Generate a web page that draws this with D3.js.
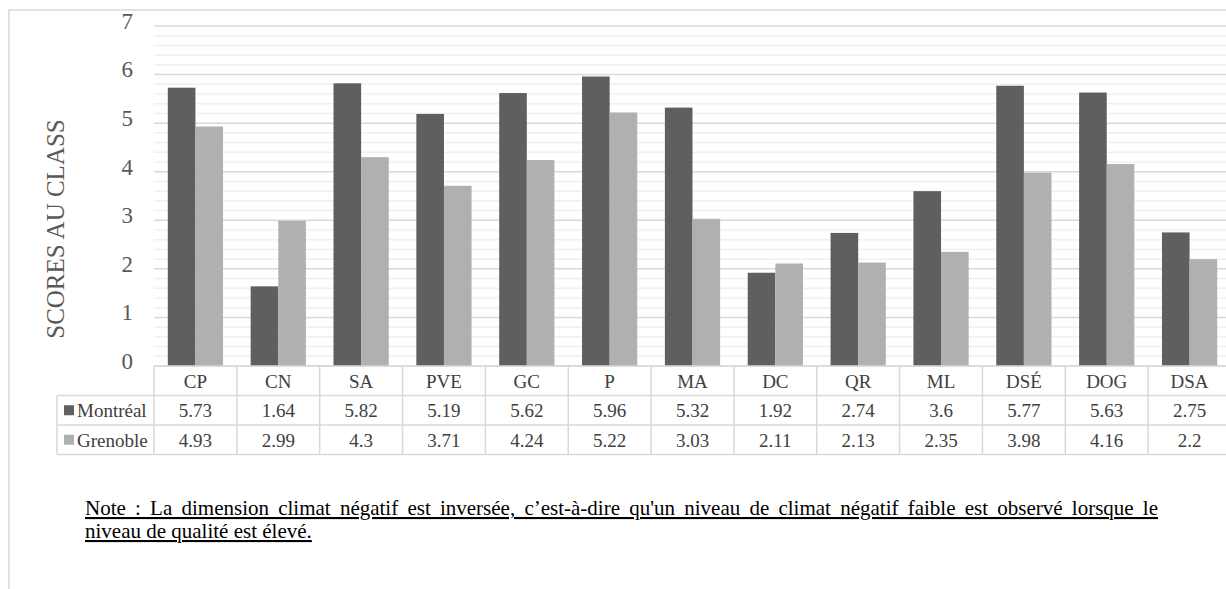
<!DOCTYPE html>
<html>
<head>
<meta charset="utf-8">
<script src="https://cdn.jsdelivr.net/npm/d3@7"></script>
<style>
  body { margin: 0; background: #fff; }
  svg { display: block; }
  svg text { font-family: "Liberation Serif", "Times New Roman", serif; }
</style>
</head>
<body>
<div id="chart"></div>
<script>
var categories = ["CP", "CN", "SA", "PVE", "GC", "P", "MA", "DC", "QR", "ML", "DSÉ", "DOG", "DSA"];
var montreal = [5.73, 1.64, 5.82, 5.19, 5.62, 5.96, 5.32, 1.92, 2.74, 3.6, 5.77, 5.63, 2.75];
var grenoble = [4.93, 2.99, 4.3, 3.71, 4.24, 5.22, 3.03, 2.11, 2.13, 2.35, 3.98, 4.16, 2.2];
var seriesNames = ["Montréal", "Grenoble"];
var yTicks = [0, 1, 2, 3, 4, 5, 6, 7];

var W = 1226, H = 589;
var colors = ["#5f5f5f", "#b0b0b0"];
var plot = {left: 154, right: 1231, top: 26, bottom: 366};
var rowH = 29.5;
var serif = "Liberation Serif";

var svg = d3.select("#chart").append("svg")
    .attr("width", W)
    .attr("height", H)
    .attr("font-family", serif);

// outer chart frame (right/bottom edges fall outside the window)
svg.append("rect")
    .attr("x", 9).attr("y", 10)
    .attr("width", W + 20).attr("height", H + 20)
    .attr("fill", "none")
    .attr("stroke", "#d9d9d9")
    .attr("stroke-width", 1.5);

var x = d3.scaleBand()
    .domain(categories)
    .range([plot.left, plot.right]);

var y = d3.scaleLinear()
    .domain([0, 7])
    .range([plot.bottom, plot.top]);

var xs = d3.scaleBand()
    .domain(seriesNames)
    .range([0, x.bandwidth()])
    .paddingOuter(0.5);

// minor gridlines every 0.2
var minor = d3.range(0, 7.0001, 0.2).filter(function (v) {
    return Math.abs(v - Math.round(v)) > 0.01;
});
svg.append("g").selectAll("line")
    .data(minor)
    .enter().append("line")
    .attr("x1", plot.left).attr("x2", plot.right)
    .attr("y1", function (d) { return y(d); })
    .attr("y2", function (d) { return y(d); })
    .attr("stroke", "#f0f0f0")
    .attr("stroke-width", 1.5);

// major gridlines
svg.append("g").selectAll("line")
    .data(yTicks)
    .enter().append("line")
    .attr("x1", plot.left).attr("x2", plot.right)
    .attr("y1", function (d) { return y(d); })
    .attr("y2", function (d) { return y(d); })
    .attr("stroke", "#d9d9d9")
    .attr("stroke-width", 1.5);

// y axis labels
var yAxis = d3.axisLeft(y).tickValues(yTicks).tickFormat(d3.format("d")).tickSize(0).tickPadding(0);
var gy = svg.append("g")
    .attr("transform", "translate(" + (plot.left - 21) + ",0)")
    .call(yAxis);
gy.attr("font-family", serif);
gy.select(".domain").remove();
gy.selectAll("text")
    .attr("font-size", 23)
    .attr("fill", "#595959")
    .attr("dy", "0.1em");

svg.append("text")
    .attr("transform", "translate(64,229) rotate(-90)")
    .attr("text-anchor", "middle")
    .attr("font-size", 25)
    .attr("fill", "#595959")
    .text("SCORES AU CLASS");

// bars
var series = [montreal, grenoble];
series.forEach(function (vals, si) {
    svg.append("g").selectAll("rect")
        .data(vals)
        .enter().append("rect")
        .attr("x", function (d, i) { return x(categories[i]) + xs(seriesNames[si]); })
        .attr("width", xs.bandwidth())
        .attr("y", function (d) { return y(d); })
        .attr("height", function (d) { return y(0) - y(d); })
        .attr("fill", colors[si]);
});

// data table
var table = svg.append("g");
var tLeft = 57;
var lineC = "#d9d9d9";
var tFont = 19;
// category header row
table.selectAll(".hdr")
    .data(categories)
    .enter().append("text")
    .attr("x", function (d) { return x(d) + x.bandwidth() / 2; })
    .attr("y", plot.bottom + rowH / 2 + 7)
    .attr("text-anchor", "middle")
    .attr("font-size", tFont)
    .attr("fill", "#404040")
    .text(function (d) { return d; });

series.forEach(function (vals, si) {
    var ry = plot.bottom + rowH * (si + 1);
    table.selectAll(".v" + si)
        .data(vals)
        .enter().append("text")
        .attr("x", function (d, i) { return x(categories[i]) + x.bandwidth() / 2; })
        .attr("y", ry + rowH / 2 + 7)
        .attr("text-anchor", "middle")
        .attr("font-size", tFont)
        .attr("fill", "#404040")
        .text(function (d) { return d; });
    table.append("rect")
        .attr("x", 64).attr("y", ry + rowH / 2 - 5)
        .attr("width", 10).attr("height", 10)
        .attr("fill", colors[si]);
    table.append("text")
        .attr("x", 77).attr("y", ry + rowH / 2 + 7)
        .attr("font-size", tFont)
        .attr("fill", "#404040")
        .text(seriesNames[si]);
});

// table lines
var hLines = [
    {y: plot.bottom, x1: plot.left},
    {y: plot.bottom + rowH, x1: tLeft},
    {y: plot.bottom + rowH * 2, x1: tLeft},
    {y: plot.bottom + rowH * 3, x1: tLeft}
];
table.selectAll(".hl")
    .data(hLines)
    .enter().append("line")
    .attr("x1", function (d) { return d.x1; })
    .attr("x2", plot.right)
    .attr("y1", function (d) { return d.y; })
    .attr("y2", function (d) { return d.y; })
    .attr("stroke", lineC)
    .attr("stroke-width", 1.5);
table.selectAll(".vl")
    .data(categories.concat(["_end"]))
    .enter().append("line")
    .attr("x1", function (d) { return d === "_end" ? plot.right : x(d); })
    .attr("x2", function (d) { return d === "_end" ? plot.right : x(d); })
    .attr("y1", plot.bottom)
    .attr("y2", plot.bottom + rowH * 3)
    .attr("stroke", lineC)
    .attr("stroke-width", 1.5);
table.append("line")
    .attr("x1", tLeft).attr("x2", tLeft)
    .attr("y1", plot.bottom + rowH)
    .attr("y2", plot.bottom + rowH * 3)
    .attr("stroke", lineC)
    .attr("stroke-width", 1.5);

// note under the chart, first line justified with word spacing
var noteFont = 21;
var line1 = svg.append("text")
    .attr("x", 85).attr("y", 515)
    .attr("font-size", noteFont)
    .attr("fill", "#000")
    .attr("text-decoration", "underline")
    .text("Note : La dimension climat négatif est inversée, c’est-à-dire qu'un niveau de climat négatif faible est observé lorsque le");
var natural = line1.node().getComputedTextLength();
var gaps = line1.text().split(" ").length - 1;
var extra = Math.max(0, (1073 - natural) / gaps);
line1.attr("word-spacing", extra);
svg.append("text")
    .attr("x", 85).attr("y", 538)
    .attr("font-size", noteFont)
    .attr("fill", "#000")
    .attr("text-decoration", "underline")
    .text("niveau de qualité est élevé.");
</script>
</body>
</html>
